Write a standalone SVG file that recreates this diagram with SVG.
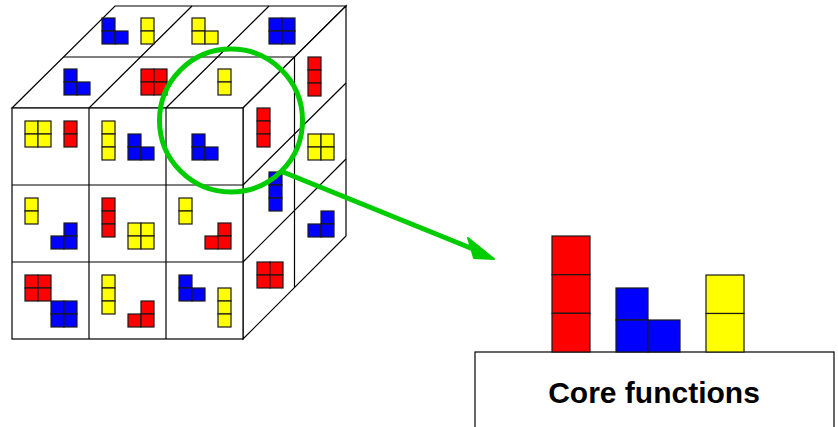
<svg xmlns="http://www.w3.org/2000/svg" width="838" height="427" viewBox="0 0 838 427">
  <style>
    .face { fill: #ffffff; stroke: #000000; stroke-width: 1.2; stroke-linejoin: miter; }
    .grid { fill: none; stroke: #000000; stroke-width: 1.2; }
    .r { fill: #ff0000; stroke: #1a1a1a; stroke-width: 1.2; }
    .b { fill: #0000ff; stroke: #1a1a1a; stroke-width: 1.2; }
    .y { fill: #ffff00; stroke: #1a1a1a; stroke-width: 1.2; }
    .ring { fill: none; stroke: #00cc00; stroke-width: 5; }
    .link { fill: none; stroke: #00cc00; stroke-width: 5; stroke-linecap: round; }
    .head { fill: #00cc00; stroke: #00cc00; stroke-width: 2; stroke-linejoin: round; }
    .base { fill: #ffffff; stroke: #000000; stroke-width: 1.2; }
    .label { font-family: "Liberation Sans", Arial, sans-serif; font-weight: bold; font-size: 30px; fill: #000000; }
  </style>

  <!-- Module cube: 3x3 front, 2 cells deep -->
  <g id="cube">
    <!-- faces -->
    <polygon class="face" points="12,108 115,6 346,6 243,108"/>
    <polygon class="face" points="243,108 346,6 346,236 243,339"/>
    <rect class="face" x="12" y="108" width="231" height="231"/>
    <!-- top face grid -->
    <line class="grid" x1="63.5" y1="57" x2="294.5" y2="57"/>
    <line class="grid" x1="89" y1="108" x2="192" y2="6"/>
    <line class="grid" x1="166" y1="108" x2="269" y2="6"/>
    <!-- side face grid -->
    <line class="grid" x1="294.5" y1="57" x2="294.5" y2="287.5"/>
    <line class="grid" x1="243" y1="185" x2="346" y2="83"/>
    <line class="grid" x1="243" y1="262" x2="346" y2="159"/>
    <!-- front face grid -->
    <line class="grid" x1="89" y1="108" x2="89" y2="339"/>
    <line class="grid" x1="166" y1="108" x2="166" y2="339"/>
    <line class="grid" x1="12" y1="185" x2="243" y2="185"/>
    <line class="grid" x1="12" y1="262" x2="243" y2="262"/>
  </g>

  <!-- Pieces on the top face -->
  <g id="top-pieces">
    <rect class="b" x="102" y="18" width="13" height="13"/><rect class="b" x="102" y="31" width="13" height="13"/><rect class="b" x="115" y="31" width="13" height="13"/>
    <rect class="y" x="141" y="18" width="13" height="13"/><rect class="y" x="141" y="31" width="13" height="13"/>
    <rect class="y" x="192" y="18" width="13" height="13"/><rect class="y" x="192" y="31" width="13" height="13"/><rect class="y" x="205" y="31" width="13" height="13"/>
    <rect class="b" x="269" y="18" width="13" height="13"/><rect class="b" x="282" y="18" width="13" height="13"/><rect class="b" x="269" y="31" width="13" height="13"/><rect class="b" x="282" y="31" width="13" height="13"/>
    <rect class="b" x="64" y="69" width="13" height="13"/><rect class="b" x="64" y="82" width="13" height="13"/><rect class="b" x="77" y="82" width="13" height="13"/>
    <rect class="r" x="141" y="69" width="13" height="13"/><rect class="r" x="154" y="69" width="13" height="13"/><rect class="r" x="141" y="82" width="13" height="13"/><rect class="r" x="154" y="82" width="13" height="13"/>
    <rect class="y" x="218" y="69" width="13" height="13"/><rect class="y" x="218" y="82" width="13" height="13"/>
  </g>

  <!-- Pieces on the front face -->
  <g id="front-pieces">
    <!-- row 1 -->
    <rect class="y" x="25" y="121" width="13" height="13"/><rect class="y" x="38" y="121" width="13" height="13"/><rect class="y" x="25" y="134" width="13" height="13"/><rect class="y" x="38" y="134" width="13" height="13"/>
    <rect class="r" x="64" y="121" width="13" height="13"/><rect class="r" x="64" y="134" width="13" height="13"/>
    <rect class="y" x="102" y="121" width="13" height="13"/><rect class="y" x="102" y="134" width="13" height="13"/><rect class="y" x="102" y="147" width="13" height="13"/>
    <rect class="b" x="128" y="134" width="13" height="13"/><rect class="b" x="128" y="147" width="13" height="13"/><rect class="b" x="141" y="147" width="13" height="13"/>
    <rect class="b" x="192" y="134" width="13" height="13"/><rect class="b" x="192" y="147" width="13" height="13"/><rect class="b" x="205" y="147" width="13" height="13"/>
    <!-- row 2 -->
    <rect class="y" x="25" y="198" width="13" height="13"/><rect class="y" x="25" y="211" width="13" height="13"/>
    <rect class="b" x="64" y="223" width="13" height="13"/><rect class="b" x="51" y="236" width="13" height="13"/><rect class="b" x="64" y="236" width="13" height="13"/>
    <rect class="r" x="102" y="198" width="13" height="13"/><rect class="r" x="102" y="211" width="13" height="13"/><rect class="r" x="102" y="224" width="13" height="13"/>
    <rect class="y" x="128" y="223" width="13" height="13"/><rect class="y" x="141" y="223" width="13" height="13"/><rect class="y" x="128" y="236" width="13" height="13"/><rect class="y" x="141" y="236" width="13" height="13"/>
    <rect class="y" x="179" y="198" width="13" height="13"/><rect class="y" x="179" y="211" width="13" height="13"/>
    <rect class="r" x="218" y="223" width="13" height="13"/><rect class="r" x="205" y="236" width="13" height="13"/><rect class="r" x="218" y="236" width="13" height="13"/>
    <!-- row 3 -->
    <rect class="r" x="25" y="275" width="13" height="13"/><rect class="r" x="38" y="275" width="13" height="13"/><rect class="r" x="25" y="288" width="13" height="13"/><rect class="r" x="38" y="288" width="13" height="13"/>
    <rect class="b" x="51" y="301" width="13" height="13"/><rect class="b" x="64" y="301" width="13" height="13"/><rect class="b" x="51" y="314" width="13" height="13"/><rect class="b" x="64" y="314" width="13" height="13"/>
    <rect class="y" x="102" y="275" width="13" height="13"/><rect class="y" x="102" y="288" width="13" height="13"/><rect class="y" x="102" y="301" width="13" height="13"/>
    <rect class="r" x="141" y="301" width="13" height="13"/><rect class="r" x="128" y="314" width="13" height="13"/><rect class="r" x="141" y="314" width="13" height="13"/>
    <rect class="b" x="179" y="275" width="13" height="13"/><rect class="b" x="179" y="288" width="13" height="13"/><rect class="b" x="192" y="288" width="13" height="13"/>
    <rect class="y" x="218" y="288" width="13" height="13"/><rect class="y" x="218" y="301" width="13" height="13"/><rect class="y" x="218" y="314" width="13" height="13"/>
  </g>

  <!-- Pieces on the side face -->
  <g id="side-pieces">
    <rect class="r" x="308" y="57" width="13" height="13"/><rect class="r" x="308" y="70" width="13" height="13"/><rect class="r" x="308" y="83" width="13" height="13"/>
    <rect class="r" x="257" y="108" width="13" height="13"/><rect class="r" x="257" y="121" width="13" height="13"/><rect class="r" x="257" y="134" width="13" height="13"/>
    <rect class="y" x="308" y="134" width="13" height="13"/><rect class="y" x="321" y="134" width="13" height="13"/><rect class="y" x="308" y="147" width="13" height="13"/><rect class="y" x="321" y="147" width="13" height="13"/>
    <rect class="b" x="269" y="172" width="13" height="13"/><rect class="b" x="269" y="185" width="13" height="13"/><rect class="b" x="269" y="198" width="13" height="13"/>
    <rect class="b" x="321" y="211" width="13" height="13"/><rect class="b" x="308" y="224" width="13" height="13"/><rect class="b" x="321" y="224" width="13" height="13"/>
    <rect class="r" x="257" y="262" width="13" height="13"/><rect class="r" x="270" y="262" width="13" height="13"/><rect class="r" x="257" y="275" width="13" height="13"/><rect class="r" x="270" y="275" width="13" height="13"/>
  </g>

  <!-- Highlight ring around the front top-right cell -->
  <g id="highlight">
    <circle class="ring" cx="231" cy="120.5" r="71.5"/>
  </g>

  <!-- Core functions base with its stacked pieces -->
  <g id="core-functions">
    <rect class="base" x="475" y="352" width="359" height="90"/>
    <text class="label" x="654" y="403" text-anchor="middle">Core functions</text>
  </g>

  <g id="core-pieces">
    <rect class="r" x="552" y="236" width="38" height="38.7"/>
    <rect class="r" x="552" y="274.7" width="38" height="38.6"/>
    <rect class="r" x="552" y="313.3" width="38" height="38.7"/>
    <rect class="b" x="616" y="288" width="32" height="32"/>
    <rect class="b" x="616" y="320" width="32" height="32"/>
    <rect class="b" x="648" y="320" width="32" height="32"/>
    <rect class="y" x="706" y="275" width="38" height="38.5"/>
    <rect class="y" x="706" y="313.5" width="38" height="38.5"/>
  </g>

  <!-- Connector from the ring to the core functions -->
  <g id="connectors">
    <line class="link" x1="283" y1="172" x2="478" y2="251"/>
    <polygon class="head" points="468,238 494,259 474,258"/>
  </g>
</svg>
